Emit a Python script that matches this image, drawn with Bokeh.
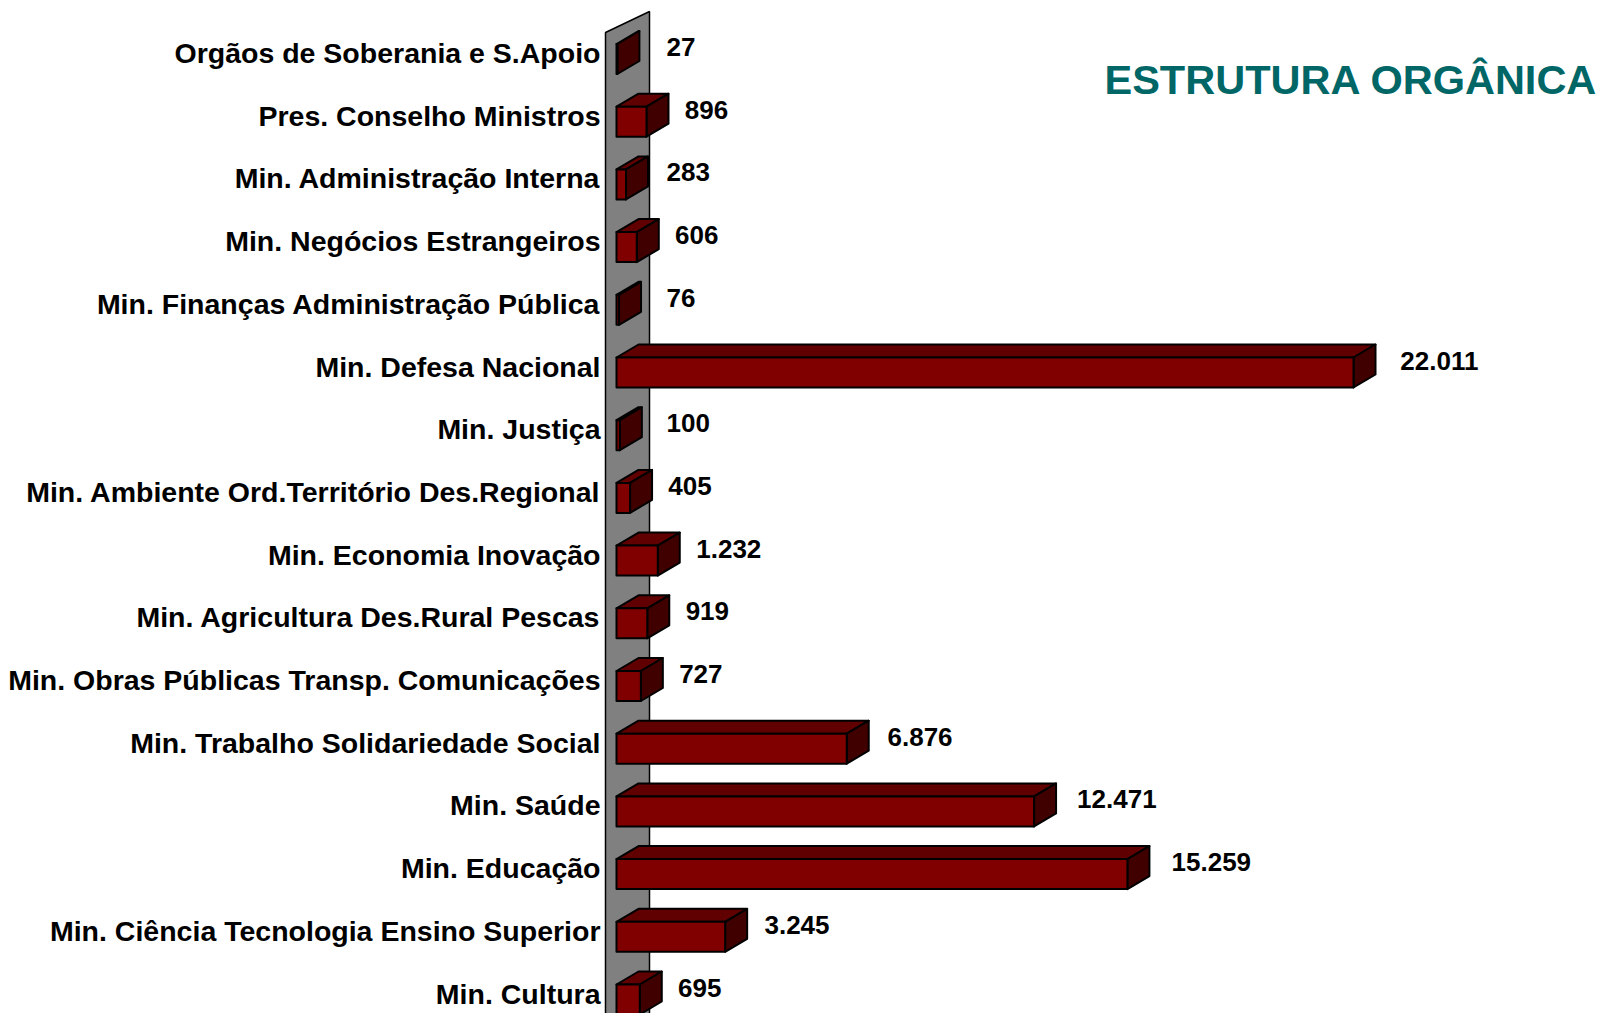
import numpy as np
from bokeh.plotting import figure
from bokeh.models import Range1d, Label
from bokeh.embed import file_html
from bokeh.resources import INLINE
from bokeh.core.properties import value

# ---------------- data ----------------
categories = [
    "Orgãos de Soberania e S.Apoio",
    "Pres. Conselho Ministros",
    "Min. Administração Interna",
    "Min. Negócios Estrangeiros",
    "Min. Finanças Administração Pública",
    "Min. Defesa Nacional",
    "Min. Justiça",
    "Min. Ambiente Ord.Território Des.Regional",
    "Min. Economia Inovação",
    "Min. Agricultura Des.Rural Pescas",
    "Min. Obras Públicas Transp. Comunicações",
    "Min. Trabalho Solidariedade Social",
    "Min. Saúde",
    "Min. Educação",
    "Min. Ciência Tecnologia Ensino Superior",
    "Min. Cultura",
]
values = [27, 896, 283, 606, 76, 22011, 100, 405, 1232, 919, 727, 6876, 12471, 15259, 3245, 695]
value_labels = ["27", "896", "283", "606", "76", "22.011", "100", "405", "1.232",
                "919", "727", "6.876", "12.471", "15.259", "3.245", "695"]
title_text = "ESTRUTURA ORGÂNICA"

# ---------------- geometry (pixels) ----------------
W, H = 1603, 1013
PX_PER_UNIT = 737.0 / 22011.0   # horizontal scale
ROW_PX = 62.7                   # distance between categories
X0_PX = 616                     # frame pixel of value 0
Y0_PX = 58.5                    # frame pixel of first category centre

DEPTH_X = 22.0    # 3D depth, px
DEPTH_Y = 13.0
HALF_H = 15.0     # half height of a bar's front face, px

ux = 1.0 / PX_PER_UNIT          # one pixel in x data units
uy = 1.0 / ROW_PX               # one pixel in y data units

x_start = -X0_PX * ux
x_end = (W - X0_PX) * ux
y_top = -Y0_PX * uy
y_bottom = (H - Y0_PX) * uy

p = figure(width=W, height=H,
           x_range=Range1d(x_start, x_end),
           y_range=Range1d(y_bottom, y_top),
           x_axis_location=None, y_axis_location=None,
           output_backend="svg", toolbar_location=None,
           min_border=0, outline_line_color=None,
           background_fill_color="white", border_fill_color="white")
p.grid.visible = False

vals = np.array(values, dtype=float)
ys = np.arange(len(categories), dtype=float)

dxu = DEPTH_X * ux
dyu = DEPTH_Y * uy
hh = HALF_H * uy

# ---------------- grey wall ----------------
wl = -11 * ux
wr = 33 * ux
wall_x = [wl, wr, wr, wl]
wall_y = [-26.5 * uy, -47.5 * uy, 16.5 - 21 * uy, 16.5]
p.patch(wall_x, wall_y, fill_color="#808080", line_color="black", line_width=1.5)

# ---------------- 3D bars ----------------
top_xs = [[0, v, v + dxu, dxu] for v in vals]
top_ys = [[y - hh, y - hh, y - hh - dyu, y - hh - dyu] for y in ys]
side_xs = [[v, v + dxu, v + dxu, v] for v in vals]
side_ys = [[y - hh, y - hh - dyu, y + hh - dyu, y + hh] for y in ys]

p.patches(top_xs, top_ys, fill_color="#600000", line_color="black", line_width=2, line_join="round")
p.patches(side_xs, side_ys, fill_color="#400000", line_color="black", line_width=2, line_join="round")
p.quad(left=0, right=vals, top=ys - hh, bottom=ys + hh,
       fill_color="#800000", line_color="black", line_width=2, line_join="round")

# ---------------- category labels ----------------
p.text(x=[-16 * ux] * len(categories), y=ys - 6 * uy, text=categories,
       text_align="right", text_baseline="middle",
       text_font=value("Liberation Sans"), text_font_style="bold",
       text_font_size="28.5px", text_color="black")

# ---------------- value labels ----------------
lab_x = np.maximum(vals * 1.012 + 38 * ux, 50 * ux)
p.text(x=lab_x, y=ys - 12 * uy, text=value_labels,
       text_align="left", text_baseline="middle",
       text_font=value("Liberation Sans"), text_font_style="bold",
       text_font_size="26px", text_color="black")

# ---------------- title ----------------
p.add_layout(Label(x=(1104 - X0_PX) * ux, y=(79 - Y0_PX) * uy, text=title_text,
                   text_align="left", text_baseline="alphabetic",
                   text_font="Liberation Sans", text_font_style="bold",
                   text_font_size="41.5px", text_color="#006666"))

open("out.html", "w").write(file_html(p, INLINE))
